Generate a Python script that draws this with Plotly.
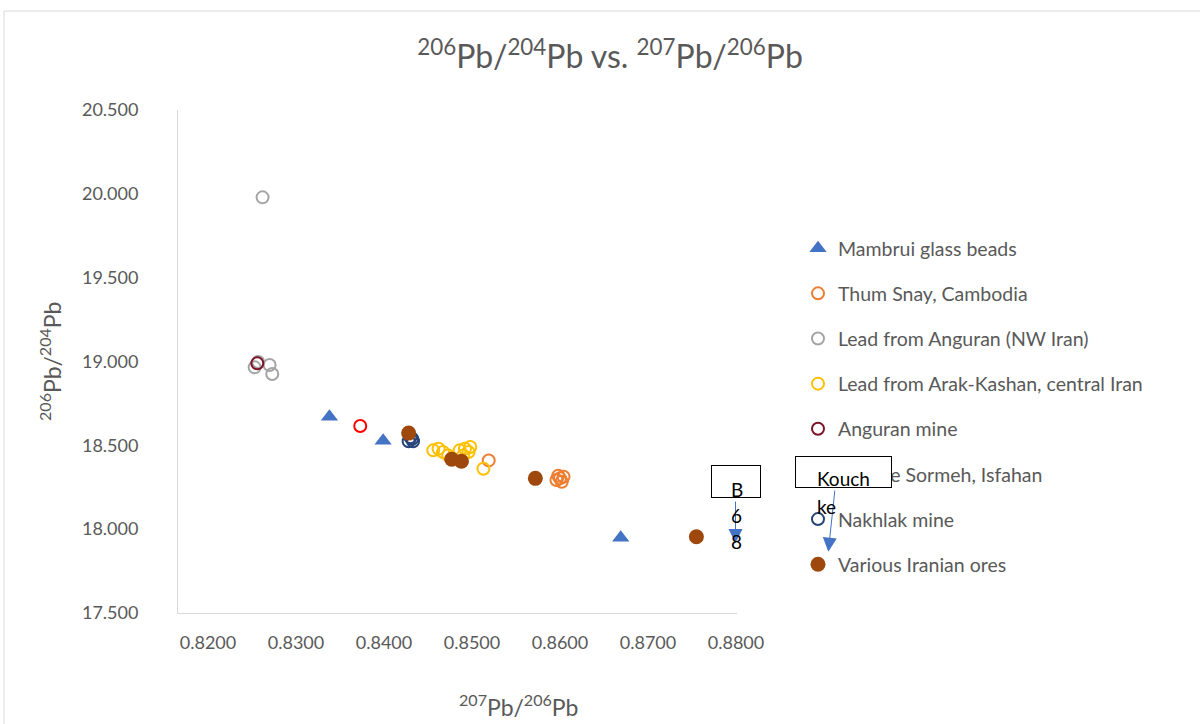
import plotly.graph_objects as go

# ---------------- data ----------------
series_names = [
    "Mambrui glass beads",
    "Thum Snay, Cambodia",
    "Lead from Anguran (NW Iran)",
    "Lead from Arak-Kashan, central Iran",
    "Anguran mine",
    "Kouh-e Sormeh, Isfahan",
    "Nakhlak mine",
    "Various Iranian ores",
]
mambrui_x = [0.8338, 0.8399, 0.8669]
mambrui_y = [18.671, 18.527, 17.949]
thum_x = [0.8519, 0.8600, 0.8596, 0.8604, 0.8602, 0.8598]
thum_y = [18.410, 18.303, 18.293, 18.313, 18.283, 18.319]
anguran_lead_x = [0.8262, 0.8253, 0.8270, 0.8273, 0.8257]
anguran_lead_y = [19.979, 18.965, 18.979, 18.925, 18.997]
arak_x = [0.8456, 0.8462, 0.8467, 0.8473, 0.8477, 0.8486, 0.8492, 0.8496, 0.8490, 0.8498, 0.8513]
arak_y = [18.470, 18.480, 18.460, 18.440, 18.424, 18.470, 18.480, 18.460, 18.440, 18.490, 18.360]
anguran_mine_x = [0.8256]
anguran_mine_y = [18.989]
sormeh_x = [0.8373]
sormeh_y = [18.615]
nakhlak_x = [0.8428, 0.8432, 0.8433, 0.8430]
nakhlak_y = [18.524, 18.539, 18.524, 18.548]
various_x = [0.8428, 0.8477, 0.8488, 0.8572, 0.8755]
various_y = [18.573, 18.417, 18.405, 18.303, 17.955]

x_ticks = [0.82, 0.83, 0.84, 0.85, 0.86, 0.87, 0.88]
y_ticks = [17.5, 18.0, 18.5, 19.0, 19.5, 20.0, 20.5]

# ---------------- layout geometry ----------------
W, H = 1200, 724
L, R, T, B = 178, 737, 110, 613   # plot area in pixels
FONT = "Lato"
GREY = "#595959"


def px(x):
    return (x - L) / (R - L)


def py(y):
    return (B - y) / (B - T)


fig = go.Figure()


def add(xs, ys, name, symbol, color, size, line_w=0, filled=True):
    marker = dict(symbol=symbol, size=size)
    if filled:
        marker.update(color=color, line=dict(width=0))
    else:
        marker.update(color=color, line=dict(width=line_w, color=color))
    fig.add_trace(go.Scatter(x=xs, y=ys, mode="markers", name=name,
                             legendgroup=name, marker=marker))


add(mambrui_x, mambrui_y, series_names[0], "triangle-up", "#4472C4", 15)
add(thum_x, thum_y, series_names[1], "circle-open", "#ED7D31", 12, 2, False)
add(anguran_lead_x, anguran_lead_y, series_names[2], "circle-open", "#A5A5A5", 12, 2, False)
add(arak_x, arak_y, series_names[3], "circle-open", "#FFC000", 12, 2, False)
add(anguran_mine_x, anguran_mine_y, series_names[4], "circle-open", "#7B1428", 12, 2, False)
add(sormeh_x, sormeh_y, series_names[5], "circle-open", "#FF0000", 12, 2, False)
add(nakhlak_x, nakhlak_y, series_names[6], "circle-open", "#264478", 12, 2, False)
add(various_x, various_y, series_names[7], "circle", "#9E480E", 15)

ann_font = dict(family=FONT, size=19, color="black")
annotations = [
    # axis titles
    dict(text="<sup>207</sup>Pb/<sup>206</sup>Pb", x=px(518), y=py(705), xref="paper", yref="paper",
         showarrow=False, font=dict(family=FONT, size=23, color=GREY), xanchor="center", yanchor="middle"),
    dict(text="<sup>206</sup>Pb/<sup>204</sup>Pb", x=px(50), y=py(362), xref="paper", yref="paper",
         showarrow=False, textangle=-90, font=dict(family=FONT, size=23, color=GREY),
         xanchor="center", yanchor="middle"),
    # text box "B 6 8"
    dict(text=" ", x=px(711), y=py(465), xref="paper", yref="paper", showarrow=False,
         xanchor="left", yanchor="top", width=48, height=31, bgcolor="white",
         bordercolor="black", borderwidth=1, borderpad=0),
    dict(text="", x=px(735.5), y=py(543), xref="paper", yref="paper", showarrow=True,
         ax=0, ay=-43, arrowhead=2, arrowsize=2.8, arrowwidth=1, arrowcolor="#4472C4"),
    dict(text="B", x=px(737), y=py(489), xref="paper", yref="paper", showarrow=False,
         xanchor="center", yanchor="middle", font=ann_font),
    dict(text="6", x=px(736), y=py(515), xref="paper", yref="paper", showarrow=False,
         xanchor="center", yanchor="middle", font=ann_font),
    dict(text="8", x=px(736), y=py(541), xref="paper", yref="paper", showarrow=False,
         xanchor="center", yanchor="middle", font=ann_font),
    # text box "Kouch ke"
    dict(text=" ", x=px(795), y=py(456), xref="paper", yref="paper", showarrow=False,
         xanchor="left", yanchor="top", width=95, height=30, bgcolor="white",
         bordercolor="black", borderwidth=1, borderpad=0),
    dict(text="", x=px(828.3), y=py(551.7), xref="paper", yref="paper", showarrow=True,
         ax=6.7, ay=-62.7, arrowhead=2, arrowsize=2.8, arrowwidth=1, arrowcolor="#4472C4"),
    dict(text="Kouch", x=px(815), y=py(479), xref="paper", yref="paper", showarrow=False,
         xanchor="left", yanchor="middle", font=ann_font),
    dict(text="ke", x=px(815), y=py(506), xref="paper", yref="paper", showarrow=False,
         xanchor="left", yanchor="middle", font=ann_font),
]

fig.update_layout(
    width=W, height=H,
    margin=dict(l=L, r=W - R, t=T, b=H - B, pad=0),
    plot_bgcolor="white", paper_bgcolor="white",
    title=dict(text="<sup>206</sup>Pb/<sup>204</sup>Pb vs. <sup>207</sup>Pb/<sup>206</sup>Pb",
               x=610 / W, xanchor="center", y=1 - 57 / H, yanchor="middle", yref="container",
               xref="container", font=dict(family=FONT, size=32, color=GREY)),
    font=dict(family=FONT, color=GREY),
    showlegend=True,
    legend=dict(x=px(798), y=py(229), xanchor="left", yanchor="top",
                font=dict(family=FONT, size=19.5, color=GREY), tracegroupgap=16.8,
                bgcolor="rgba(0,0,0,0)", itemclick=False),
    xaxis=dict(range=[0.82 - 30 / 8800, 0.88 + 1 / 8800], tickvals=x_ticks, tickformat=".4f",
               showgrid=False, zeroline=False, showline=True, linecolor="#D9D9D9", linewidth=1,
               ticks="", ticklabelstandoff=13, tickfont=dict(family=FONT, size=18, color=GREY)),
    yaxis=dict(range=[17.5, 20.5], tickvals=y_ticks, tickformat=".3f",
               showgrid=False, zeroline=False, showline=True, linecolor="#D9D9D9", linewidth=1,
               ticks="", ticklabelstandoff=35, tickfont=dict(family=FONT, size=18, color=GREY)),
    annotations=annotations,
    shapes=[dict(type="rect", xref="paper", yref="paper", x0=px(4), x1=px(1210),
                 y0=py(740), y1=py(11), line=dict(color="#D9D9D9", width=1),
                 fillcolor="rgba(0,0,0,0)", layer="below")],
)

fig.write_html("out.html", config={"displayModeBar": False},
               post_script="document.body.style.margin='0';document.body.style.overflow='hidden';")
